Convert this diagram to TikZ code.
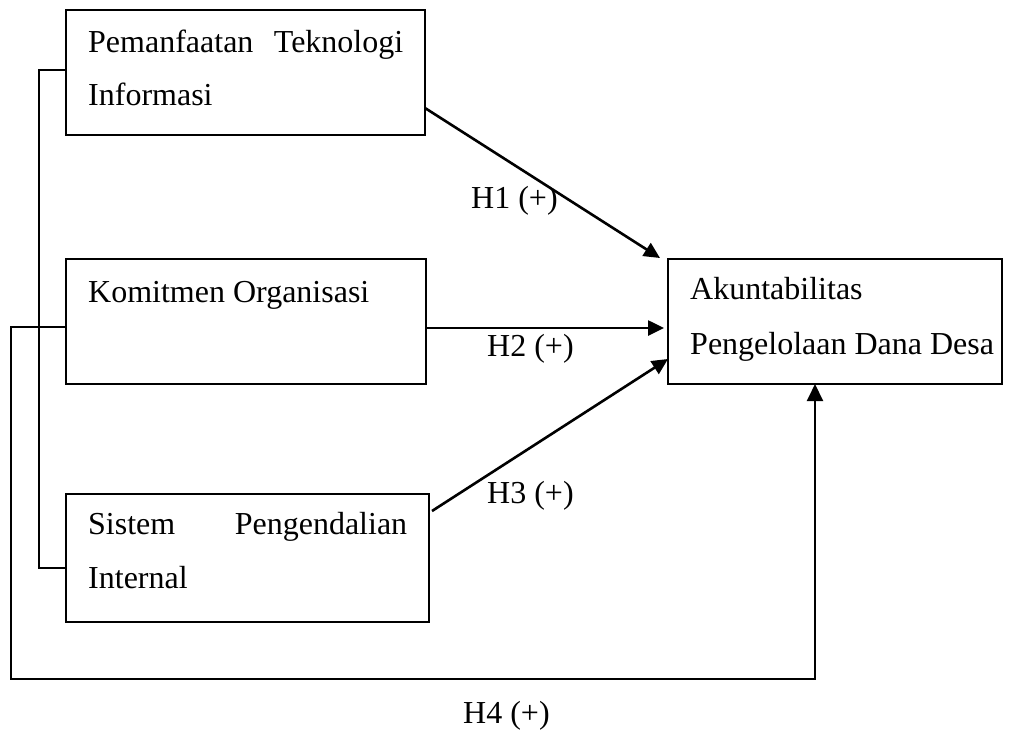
\documentclass[tikz,border=0pt]{standalone}
\usepackage{fontspec}
\setmainfont{Liberation Serif}
\usetikzlibrary{arrows.meta,calc}
\begin{document}
\begin{tikzpicture}[x=1pt,y=-1pt,
  box/.style={draw,line width=1.8pt,inner sep=0pt,outer sep=0pt,anchor=north west},
  txt/.style={anchor=base west,inner sep=0pt,font=\fontsize{32}{38}\selectfont},
  lbl/.style={anchor=base west,inner sep=0pt,font=\fontsize{32}{38}\selectfont},
  conn/.style={line width=1.9pt},
  arr/.style={line width=2.6pt,-{Triangle[length=16pt,width=15pt]}},
  arrthin/.style={line width=2pt,-{Triangle[length=17pt,width=16pt]}}]
\useasboundingbox (0,0) rectangle (1009,729);
% boxes
\node[box,minimum width=359pt,minimum height=125pt] (b1) at (66,10) {};
\node[box,minimum width=360pt,minimum height=125pt] (b2) at (66,259) {};
\node[box,minimum width=363pt,minimum height=128pt] (b3) at (66,494) {};
\node[box,minimum width=334pt,minimum height=125pt] (b4) at (668,259) {};
% texts
\node[txt] (t1a) at (88,52) {\makebox[315pt][s]{Pemanfaatan\hfill Teknologi}};
\node[txt] (t1b) at (88,105) {Informasi};
\node[txt] (t2a) at (88,302) {Komitmen Organisasi};
\node[txt] (t3a) at (88,534) {\makebox[319pt][s]{Sistem\hfill Pengendalian}};
\node[txt] (t3b) at (88,588) {Internal};
\node[txt] (t4a) at (690,299) {Akuntabilitas};
\node[txt] (t4b) at (690,354) {Pengelolaan Dana Desa};
% labels
\node[lbl] (h1) at (471,208) {H1 (+)};
\node[lbl] (h2) at (487,356) {H2 (+)};
\node[lbl] (h3) at (487,503) {H3 (+)};
\node[lbl] (h4) at (463,723) {H4 (+)};
% left bracket line
\coordinate (l1) at (39,0);
\coordinate (p1) at ([yshift=2.5pt]b1.west);
\coordinate (q1) at ([yshift=-10pt]b3.west);
\draw[conn] (p1) -- (p1 -| l1) -- (q1 -| l1) -- (q1);
% arrows
\draw[arr] ([yshift=27pt]b1.south east) -- ([xshift=-8pt,yshift=1pt]b4.north west);
\draw[arr] ([yshift=-6.5pt]b2.east) -- ([xshift=-4pt,yshift=-6.5pt]b4.west);
\draw[arr] ([xshift=3pt,yshift=-17pt]b3.north east) -- ([yshift=25pt]b4.south west);
\coordinate (h4c) at (11,679);
\draw[arrthin,line join=miter] ([yshift=-5.5pt]b2.west) -| (h4c) -| ([xshift=-20pt]b4.south);
\end{tikzpicture}
\end{document}
